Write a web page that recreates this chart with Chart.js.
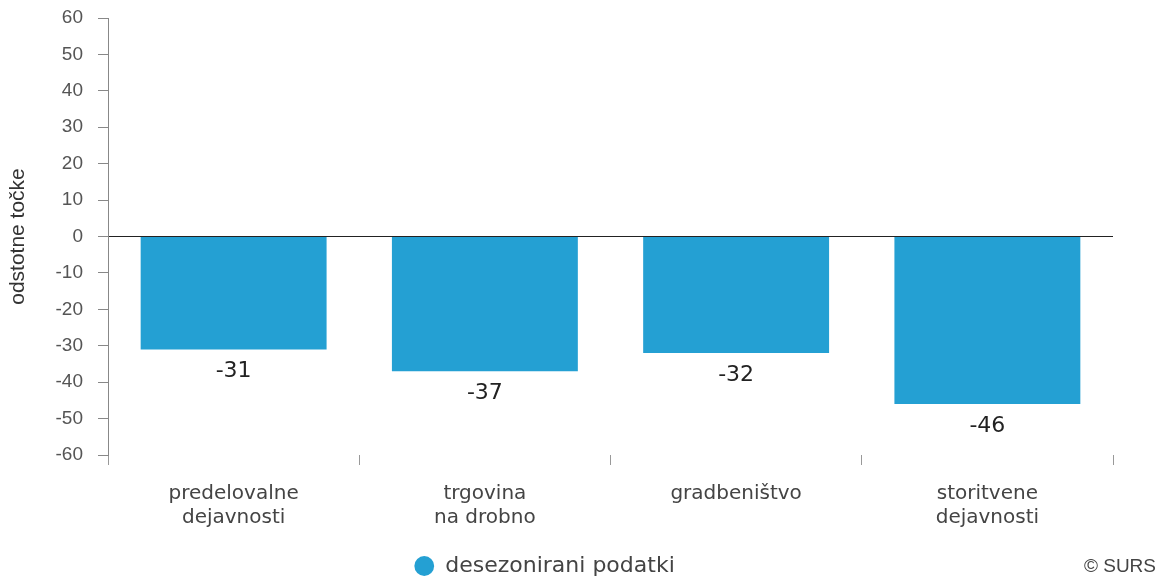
<!DOCTYPE html>
<html>
<head>
<meta charset="utf-8">
<script src="https://cdn.jsdelivr.net/npm/chart.js@4"></script>
<style>
  html, body { margin: 0; padding: 0; background: #fff; }
  #wrap { width: 1168px; height: 582px; position: relative; }
</style>
</head>
<body>
<div id="wrap"><canvas id="chart"></canvas></div>
<script>
const categories = [
  ['predelovalne', 'dejavnosti'],
  ['trgovina', 'na drobno'],
  'gradbeništvo',
  ['storitvene', 'dejavnosti']
];
const seriesName = 'desezonirani podatki';
const values = [-31, -37, -32, -46];
const yTicks = [-60, -50, -40, -30, -20, -10, 0, 10, 20, 30, 40, 50, 60];

const barColor = '#24a0d3';

// labels under the bars
const valueLabels = {
  id: 'valueLabels',
  afterDatasetsDraw(chart) {
    const ctx = chart.ctx;
    const meta = chart.getDatasetMeta(0);
    ctx.save();
    ctx.font = '22px "DejaVu Sans"';
    ctx.fillStyle = '#222';
    ctx.textAlign = 'center';
    ctx.textBaseline = 'middle';
    meta.data.forEach((bar, i) => {
      const v = chart.data.datasets[0].data[i];
      const off = v < 0 ? 22 : -22;
      ctx.fillText(String(Math.round(v)), bar.x, bar.y + off);
    });
    ctx.restore();
  }
};

const credit = {
  id: 'credit',
  afterDraw(chart) {
    const ctx = chart.ctx;
    ctx.save();
    ctx.font = '19px "Liberation Sans"';
    ctx.fillStyle = '#444';
    ctx.textAlign = 'right';
    ctx.textBaseline = 'middle';
    ctx.fillText('© SURS', chart.width - 12, 567);
    ctx.restore();
  }
};

// nudge legend a bit left and down
const legendShift = {
  id: 'legendShift',
  afterLayout(chart) {
    const lg = chart.legend;
    if (!lg) return;
    lg.left -= 12; lg.right -= 12;
    lg.top += 5; lg.bottom += 5;
  }
};

new Chart(document.getElementById('chart'), {
  type: 'bar',
  plugins: [valueLabels, credit, legendShift],
  data: {
    labels: categories,
    datasets: [{
      label: seriesName,
      data: values,
      backgroundColor: barColor,
      hoverBackgroundColor: barColor,
      barPercentage: 0.74,
      categoryPercentage: 1.0
    }]
  },
  options: {
    responsive: true,
    maintainAspectRatio: false,
    animation: false,
    layout: { padding: { top: 18, right: 55, left: 0, bottom: 0 } },
    plugins: {
      tooltip: { enabled: false },
      legend: {
        position: 'bottom',
        labels: {
          usePointStyle: true,
          pointStyle: 'circle',
          boxWidth: 20,
          boxHeight: 14,
          padding: 8,
          color: '#444',
          font: { family: 'DejaVu Sans', size: 22 }
        }
      }
    },
    scales: {
      x: {
        grid: {
          offset: true,
          drawOnChartArea: false,
          tickLength: 10,
          color: '#999'
        },
        border: { display: false },
        ticks: {
          padding: 17,
          color: '#444',
          font: { family: 'DejaVu Sans', size: 20, lineHeight: 1.2 },
          maxRotation: 0
        },
        afterFit(scale) { scale.height = 87; }
      },
      y: {
        min: yTicks[0],
        max: yTicks[yTicks.length - 1],
        afterBuildTicks(scale) { scale.ticks = yTicks.map(v => ({ value: v })); },
        grid: {
          color: c => (c.tick && c.tick.value === 0) ? '#222' : 'rgba(0,0,0,0)',
          tickColor: '#888',
          tickLength: 10
        },
        border: { display: true, color: '#888' },
        ticks: {
          padding: 15,
          color: '#555',
          font: { family: 'Liberation Sans', size: 19 }
        },
        title: {
          display: true,
          text: 'odstotne točke',
          color: '#333',
          padding: { top: 6, bottom: 4 },
          font: { family: 'Liberation Sans', size: 21 }
        },
        afterFit(scale) {
          scale.width = 108;
          scale.paddingTop = 0;
          scale.paddingBottom = 0;
        }
      }
    }
  }
});
</script>
</body>
</html>
